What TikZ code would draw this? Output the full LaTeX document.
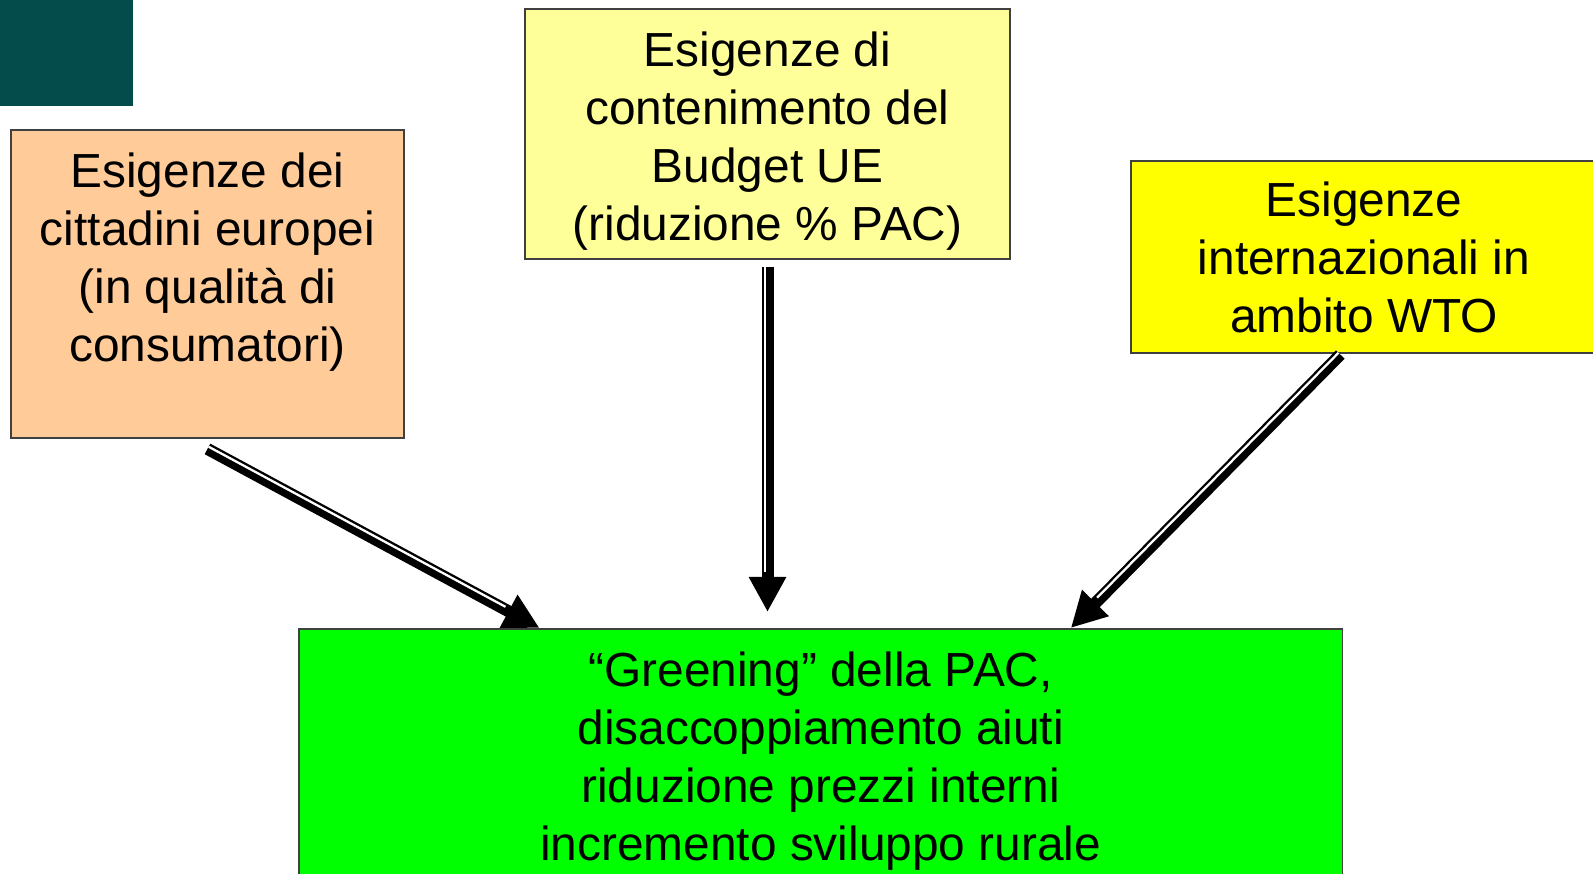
\documentclass[tikz,border=0pt]{standalone}
\usepackage{fontspec}
\setmainfont{Liberation Sans}
\usepackage{tikz}
\usetikzlibrary{positioning}
\usetikzlibrary{arrows.meta}
\definecolor{tealdark}{RGB}{4,76,76}
\definecolor{myorange}{RGB}{255,204,153}
\definecolor{myyellow}{RGB}{255,255,153}
\definecolor{wtoyellow}{RGB}{255,255,0}
\definecolor{mygreen}{RGB}{0,255,0}

\begin{document}
\begin{tikzpicture}[x=0.01cm, y=-0.01cm]
\clip (0,0) rectangle (1593,874);
\fill[tealdark] (0,0) rectangle (133,106);

\begin{scope}[every node/.style={draw=black!75, line width=0.5pt, anchor=north west, inner sep=0pt}]
    \node[fill=myorange, minimum width=3.93cm, minimum height=3.08cm] (cittadini) at (10,129) {};
    \node[fill=myyellow, minimum width=4.85cm, minimum height=2.50cm] (budget) at (524,8) {};
    \node[fill=wtoyellow, minimum width=4.66cm, minimum height=1.92cm] (wto) at (1130,160) {};
    \node[fill=mygreen, minimum width=10.43cm, minimum height=3.2cm] (greening) at (298,628) {};
\end{scope}

\begin{scope}[every node/.style={anchor=north, inner sep=0pt, align=center, font=\fontsize{13.6}{16.5}\selectfont}]
    \node (cittadini-t) at ([yshift=-0.23cm]cittadini.north) {Esigenze dei\\cittadini europei\\(in qualità di\\consumatori)};
    \node (budget-t) at ([yshift=-0.23cm]budget.north) {Esigenze di\\contenimento del\\Budget UE\\(riduzione \% PAC)};
    \node (wto-t) at ([yshift=-0.21cm]wto.north) {Esigenze\\internazionali in\\ambito WTO};
    \node (greening-t) at ([yshift=-0.23cm]greening.north) {“Greening” della PAC,\\disaccoppiamento aiuti\\riduzione prezzi interni\\incremento sviluppo rurale};
\end{scope}

\begin{scope}[>={Triangle[width=10pt,length=10pt]},
              every edge/.style={draw=black, line width=3.4pt}]
    \path [->] ([yshift=-0.1cm]cittadini.south) edge ([xshift=-2.81cm]greening.north);
    \path [->] (budget.south) edge[shorten <=0.07cm] ([yshift=0.16cm]greening.north -| budget.south);
    \path [->] ([xshift=-0.23cm]wto.south) edge[shorten <=0.01cm] ([xshift=2.5cm]greening.north);
\end{scope}

% white gap inside the arrows
\begin{scope}[every edge/.style={draw=white, line width=0.65pt}]
    \path ([yshift=-0.1cm]cittadini.south) edge[transform canvas={shift={(0.34pt,0.62pt)}}, shorten >=0.4cm] ([xshift=-2.81cm]greening.north);
    \path (budget.south) edge[transform canvas={shift={(-0.71pt,0pt)}}, shorten <=0.07cm, shorten >=0.4cm] ([yshift=0.16cm]greening.north -| budget.south);
    \path ([xshift=-0.23cm]wto.south) edge[transform canvas={shift={(-0.51pt,0.5pt)}}, shorten <=0.01cm, shorten >=0.4cm] ([xshift=2.5cm]greening.north);
\end{scope}
\end{tikzpicture}
\end{document}
